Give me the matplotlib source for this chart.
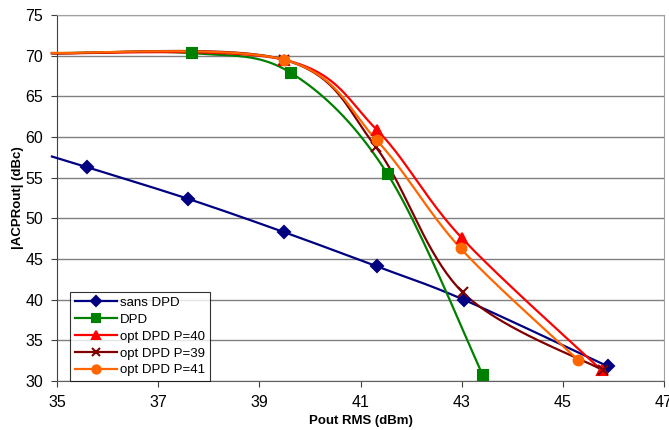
#!/usr/bin/env python
# |ACPRout| vs Pout RMS, with and without DPD (Excel-style smoothed curves).
import numpy as np, matplotlib; matplotlib.use("Agg")
import matplotlib.pyplot as plt
from matplotlib.lines import Line2D

plt.rcParams["font.family"] = ["Liberation Sans", "DejaVu Sans"]

x_sans = [34.9, 35.59, 37.59, 39.49, 41.32, 43.04, 45.89]
y_sans = [57.6, 56.3, 52.4, 48.3, 44.1, 40.0, 31.8]
x_dpd = [34.9, 37.67, 39.62, 41.54, 43.42]
y_dpd = [70.3, 70.3, 67.9, 55.4, 30.7]
x_p40 = [34.9, 39.49, 41.32, 43.0, 45.77]
y_p40 = [70.3, 69.5, 60.9, 47.6, 31.3]
x_p39 = [34.9, 39.49, 41.3, 43.02, 45.8]
y_p39 = [70.3, 69.5, 58.8, 40.9, 31.3]
x_p41 = [34.9, 39.49, 41.32, 42.98, 45.3]
y_p41 = [70.35, 69.5, 59.6, 46.3, 32.6]


def smooth(x, y, n=40):
    # Catmull-Rom style Bezier smoothing, like Excel's "smoothed line"
    p = np.column_stack([x, y]).astype(float)
    q = np.vstack([p[0], p, p[-1]])
    out = []
    t = np.linspace(0, 1, n)[:, None]
    for i in range(len(p) - 1):
        p0, p1 = q[i + 1], q[i + 2]
        c1 = p0 + (q[i + 2] - q[i]) / 6
        c2 = p1 - (q[i + 3] - q[i + 1]) / 6
        seg = (1 - t) ** 3 * p0 + 3 * (1 - t) ** 2 * t * c1 + 3 * (1 - t) * t ** 2 * c2 + t ** 3 * p1
        out.append(seg if i == 0 else seg[1:])
    s = np.vstack(out)
    return s[:, 0], s[:, 1]


series = [
    ("sans DPD", x_sans, y_sans, "#000080", "D", 6),
    ("DPD", x_dpd, y_dpd, "#008000", "s", 7),
    ("opt DPD P=40", x_p40, y_p40, "#FF0000", "^", 7.5),
    ("opt DPD P=39", x_p39, y_p39, "#800000", "x", 7),
    ("opt DPD P=41", x_p41, y_p41, "#FF6600", "o", 7),
]

fig = plt.figure(figsize=(6.69, 4.30), dpi=100)
ax = fig.add_axes([57 / 669, 1 - 381 / 430, 607 / 669, 366 / 430])

handles = []
for lab, xs, ys, c, m, ms in series:
    sx, sy = smooth(xs, ys)
    ax.plot(sx, sy, color=c, lw=1.6, clip_on=False, zorder=3)
    ax.plot(xs[1:], ys[1:], ls="none", marker=m, color=c, ms=ms, mew=1.5,
            clip_on=False, zorder=4)
    handles.append(Line2D([], [], color=c, lw=1.6, marker=m, ms=ms * 0.85, mew=1.5, label=lab))

ax.set_xlim(35, 47); ax.set_ylim(30, 75)
ax.set_xticks(range(35, 48, 2)); ax.set_yticks(range(30, 76, 5))
ax.grid(axis="y", color="#808080", lw=1)
ax.set_axisbelow(True)
for s in ["top", "right"]:
    ax.spines[s].set_color("#a0a0a0")
ax.spines["left"].set_color("#404040")
ax.spines["bottom"].set_color("#606060")
ax.tick_params(labelsize=11.5, length=4, color="#404040", pad=6)
ax.set_xlabel("Pout RMS (dBm)", fontsize=9.5, fontweight="bold", labelpad=4)
ax.set_ylabel("|ACPRout| (dBc)", fontsize=9.5, fontweight="bold", labelpad=1)

leg = ax.legend(handles=handles, loc="lower left", bbox_to_anchor=(0.022, 0.0),
                fontsize=9.5, frameon=True, fancybox=False, edgecolor="#000000",
                handlelength=3.2, handletextpad=0.2, labelspacing=0.35,
                borderpad=0.35, borderaxespad=0)
leg.get_frame().set_linewidth(0.8)

fig.savefig("out.png", dpi=100)
